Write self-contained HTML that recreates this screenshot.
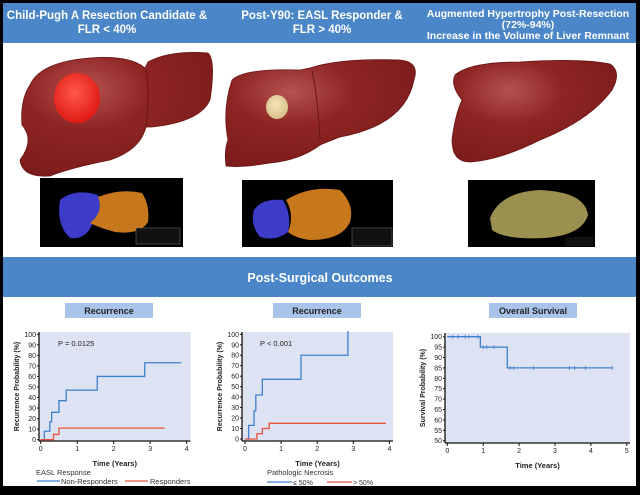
<!DOCTYPE html>
<html><head><meta charset="utf-8">
<style>
body{margin:0;background:#000;width:640px;height:490px;overflow:hidden;font-family:"Liberation Sans",Arial,sans-serif}
svg text{font-family:"Liberation Sans",Arial,sans-serif}
</style></head>
<body>
<svg width="640" height="490" viewBox="0 0 640 490">
<defs>
<radialGradient id="lg" cx="0.35" cy="0.3" r="0.8">
<stop offset="0" stop-color="#b5524f"/><stop offset="0.4" stop-color="#8e2524"/><stop offset="1" stop-color="#7a1a1a"/>
</radialGradient>
<radialGradient id="tum" cx="0.45" cy="0.4" r="0.6"><stop offset="0" stop-color="#ff5a4a"/><stop offset="1" stop-color="#e01a14"/></radialGradient>
<radialGradient id="tum2" cx="0.45" cy="0.4" r="0.6"><stop offset="0" stop-color="#f4e4b8"/><stop offset="1" stop-color="#d8c08a"/></radialGradient>
</defs>
<rect x="3" y="3" width="633" height="483" fill="#fff"/>
<rect x="3" y="3" width="633" height="40" fill="#4a86c8"/>
<g fill="#fff" font-weight="bold" font-size="11.5" text-anchor="middle">
<text x="107" y="19">Child-Pugh A Resection Candidate &amp;</text>
<text x="107" y="33">FLR &lt; 40%</text>
<text x="322" y="19">Post-Y90: EASL Responder &amp;</text>
<text x="322" y="33">FLR &gt; 40%</text>
<text x="528" y="17" font-size="10.5">Augmented Hypertrophy Post-Resection</text>
<text x="528" y="28" font-size="10.5">(72%-94%)</text>
<text x="528" y="39" font-size="10.5">Increase in the Volume of Liver Remnant</text>
</g>
<g>
<path d="M30,85 Q40,62 90,58 Q130,55 145,68 L148,62 Q170,50 208,53 Q216,60 210,100 Q200,122 152,127 L146,127 Q140,150 110,160 Q70,168 50,176 Q22,178 20,160 Q35,140 22,125 Q20,100 30,85 Z" fill="url(#lg)" stroke="#6a1414" stroke-width="0.8"/>
<path d="M146,70 Q150,95 146,127" stroke="#6a1414" stroke-width="1" fill="none"/>
<ellipse cx="77" cy="98" rx="23" ry="25" fill="url(#tum)"/>
</g>
<g>
<path d="M232,80 Q245,68 300,70 L310,68 Q340,58 400,60 Q420,62 414,80 Q405,125 340,137 Q332,140 320,145 Q300,160 270,163 Q240,168 226,166 Q224,150 228,140 Q222,110 232,80 Z" fill="url(#lg)" stroke="#6a1414" stroke-width="0.8"/>
<path d="M312,70 Q318,100 320,140" stroke="#6a1414" stroke-width="1" fill="none"/>
<ellipse cx="277" cy="107" rx="11" ry="12" fill="url(#tum2)"/>
</g>
<g>
<path d="M455,75 Q470,62 520,62 Q580,58 610,64 Q622,72 612,90 Q590,120 540,140 Q500,160 470,162 Q452,162 452,140 Q455,115 462,100 Q450,85 455,75 Z" fill="url(#lg)" stroke="#6a1414" stroke-width="0.8"/>
</g>
<g>
<rect x="40" y="178" width="143" height="69" fill="#000"/>
<path d="M60,200 Q75,188 98,195 Q104,215 92,225 Q85,240 70,238 Q56,225 60,200 Z" fill="#3c3cc8"/>
<path d="M98,197 Q120,188 142,193 Q150,205 148,222 Q140,235 115,232 Q100,228 90,223 Q104,212 98,197 Z" fill="#c8781c"/>
<rect x="136" y="228" width="44" height="16" fill="#111" stroke="#777" stroke-width="0.5"/>
</g>
<g>
<rect x="242" y="180" width="151" height="67" fill="#000"/>
<path d="M254,210 Q262,198 283,200 Q292,215 288,232 Q275,242 260,237 Q250,225 254,210 Z" fill="#3c3cc8"/>
<path d="M286,200 Q310,185 340,190 Q355,205 350,222 Q342,240 310,240 Q295,238 288,232 Q295,215 286,200 Z" fill="#c8781c"/>
<rect x="352" y="228" width="40" height="18" fill="#111" stroke="#777" stroke-width="0.5"/>
</g>
<g>
<rect x="468" y="180" width="127" height="67" fill="#000"/>
<path d="M490,218 Q500,192 540,190 Q585,192 588,215 Q582,235 545,238 Q505,240 492,230 Z" fill="#9c9050"/>
<rect x="565" y="237" width="28" height="9" fill="#111"/>
</g>
<rect x="3" y="257" width="633" height="40" fill="#4a86c8"/>
<text x="320" y="282" fill="#fff" font-weight="bold" font-size="12.5" text-anchor="middle">Post-Surgical Outcomes</text>
<g font-weight="bold" font-size="9" text-anchor="middle" fill="#222">
<rect x="65" y="303" width="88" height="15" fill="#a9c4ea"/>
<text x="109" y="314">Recurrence</text>
<rect x="273" y="303" width="88" height="15" fill="#a9c4ea"/>
<text x="317" y="314">Recurrence</text>
<rect x="489" y="303" width="88" height="15" fill="#a9c4ea"/>
<text x="533" y="314">Overall Survival</text>
</g>
<g id="charts"></g>
</svg>
<script>
const c1NonX=[0,0.1,0.25,0.3,0.5,0.7,1.55,2.85,3.85];
const c1NonY=[0,8,17,26,37,47,60,73,73];
const c1ResX=[0,0.35,0.5,3.4];
const c1ResY=[0,5,11,11];
const c2LowX=[0,0.1,0.25,0.3,0.48,1.55,2.85,2.85];
const c2LowY=[0,13,27,42,57,80,103,103];
const c2HighX=[0,0.33,0.48,0.67,3.9];
const c2HighY=[0,5,10,15,15];
const c3X=[0,0.92,1.67,4.6];
const c3Y=[100,95,85,85];
const c3CensorX=[0.15,0.3,0.5,0.6,0.85,1.0,1.1,1.3,1.75,1.85,2.4,3.4,3.55,3.85,4.6];
const tick1X=[0,1,2,3,4];
const tick3X=[0,1,2,3,4,5];
const tickRecY=[0,10,20,30,40,50,60,70,80,90,100];
const tickSurvY=[50,55,60,65,70,75,80,85,90,95,100];

const NS='http://www.w3.org/2000/svg';
const root=document.getElementById('charts');
function mk(tag,attrs,parent){const e=document.createElementNS(NS,tag);for(const k in attrs)e.setAttribute(k,attrs[k]);(parent||root).appendChild(e);return e;}
function stepPath(xs,ys,sx,sy){let d='M'+sx(xs[0])+','+sy(ys[0]);for(let i=1;i<xs.length;i++){d+=' H'+sx(xs[i])+' V'+sy(ys[i]);}return d;}
function axes(g,bg,sx,sy,xt,yt,ylab){
  mk('rect',{x:bg[0],y:bg[1],width:bg[2]-bg[0],height:bg[3]-bg[1],fill:'#dde3f3'},g);
  mk('line',{x1:bg[0],y1:bg[3],x2:bg[2],y2:bg[3],stroke:'#111','stroke-width':1.3},g);
  mk('line',{x1:bg[0],y1:bg[1],x2:bg[0],y2:bg[3],stroke:'#111','stroke-width':1.3},g);
  xt.forEach(t=>{mk('line',{x1:sx(t),y1:bg[3],x2:sx(t),y2:bg[3]+3,stroke:'#111'},g);const tx=mk('text',{x:sx(t),y:bg[3]+10,'font-size':7,'text-anchor':'middle',fill:'#222'},g);tx.textContent=t;});
  yt.forEach(t=>{mk('line',{x1:bg[0]-2,y1:sy(t),x2:bg[0],y2:sy(t),stroke:'#111'},g);const tx=mk('text',{x:bg[0]-3,y:sy(t)+2.5,'font-size':7,'text-anchor':'end',fill:'#222'},g);tx.textContent=t;});
  const xl=mk('text',{x:(bg[0]+bg[2])/2,y:bg[3]+25,'font-size':7.5,'font-weight':'bold','text-anchor':'middle',fill:'#222'},g);xl.textContent='Time (Years)';
  const cy=(bg[1]+bg[3])/2,cx=bg[0]-20;
  const yl=mk('text',{x:cx,y:cy,'font-size':7,'font-weight':'bold','text-anchor':'middle',fill:'#222',transform:'rotate(-90 '+cx+' '+cy+')'},g);yl.textContent=ylab;
}
{
const g=mk('g',{});


const sx=v=>40.7+v*36.5, sy=v=>439.7-v*1.054;
axes(g,[39,332,190.5,441],sx,sy,tick1X,tickRecY,'Recurrence Probability (%)');
const p=mk('text',{x:58,y:346,'font-size':7.5,fill:'#222'},g);p.textContent='P = 0.0125';
const a=mk('path',{d:stepPath(c1NonX,c1NonY,sx,sy),fill:'none',stroke:'#3f7fd0','stroke-width':1.3},g);


const b=mk('path',{d:stepPath(c1ResX,c1ResY,sx,sy),fill:'none',stroke:'#e8553a','stroke-width':1.3},g);


const lt=mk('text',{x:36,y:475,'font-size':7.5,fill:'#333'},g);lt.textContent='EASL Response';
mk('line',{x1:37,y1:481,x2:60,y2:481,stroke:'#3f7fd0','stroke-width':1.3},g);
const l1=mk('text',{x:61,y:484,'font-size':7.5,fill:'#333'},g);l1.textContent='Non-Responders';
mk('line',{x1:125,y1:481,x2:148,y2:481,stroke:'#e8553a','stroke-width':1.3},g);
const l2=mk('text',{x:150,y:484,'font-size':7.5,fill:'#333'},g);l2.textContent='Responders';
}
{
const g=mk('g',{});


const sx=v=>245+v*36.1, sy=v=>439-v*1.047;
axes(g,[242,332,393,441],sx,sy,tick1X,tickRecY,'Recurrence Probability (%)');
const p=mk('text',{x:260,y:346,'font-size':7.5,fill:'#222'},g);p.textContent='P < 0.001';
const a=mk('path',{d:stepPath(c2LowX,c2LowY,sx,sy),fill:'none',stroke:'#3f7fd0','stroke-width':1.3},g);


const b=mk('path',{d:stepPath(c2HighX,c2HighY,sx,sy),fill:'none',stroke:'#e8553a','stroke-width':1.3},g);


const lt=mk('text',{x:267,y:475,'font-size':7.5,fill:'#333'},g);lt.textContent='Pathologic Necrosis';
mk('line',{x1:267,y1:482,x2:292,y2:482,stroke:'#3f7fd0','stroke-width':1.3},g);
const l1=mk('text',{x:293,y:485,'font-size':7,fill:'#333'},g);l1.textContent='≤ 50%';
mk('line',{x1:327,y1:482,x2:352,y2:482,stroke:'#e8553a','stroke-width':1.3},g);
const l2=mk('text',{x:353,y:485,'font-size':7,fill:'#333'},g);l2.textContent='> 50%';
}
{
const g=mk('g',{});


const sx=v=>447.3+v*35.9, sy=v=>440.7-(v-50)*2.08;
axes(g,[445,333,630,443],sx,sy,tick3X,tickSurvY,'Survival Probability (%)');
const a=mk('path',{d:stepPath(c3X,c3Y,sx,sy),fill:'none',stroke:'#3f7fd0','stroke-width':1.3},g);


c3CensorX.forEach(x=>{let y=c3Y[0];for(let i=0;i<c3X.length;i++){if(x>=c3X[i])y=c3Y[i];}
const c=mk('line',{x1:sx(x),y1:sy(y)-2,x2:sx(x),y2:sy(y)+2,stroke:'#3f7fd0','stroke-width':0.8},g);

});
}
</script>
</body></html>
